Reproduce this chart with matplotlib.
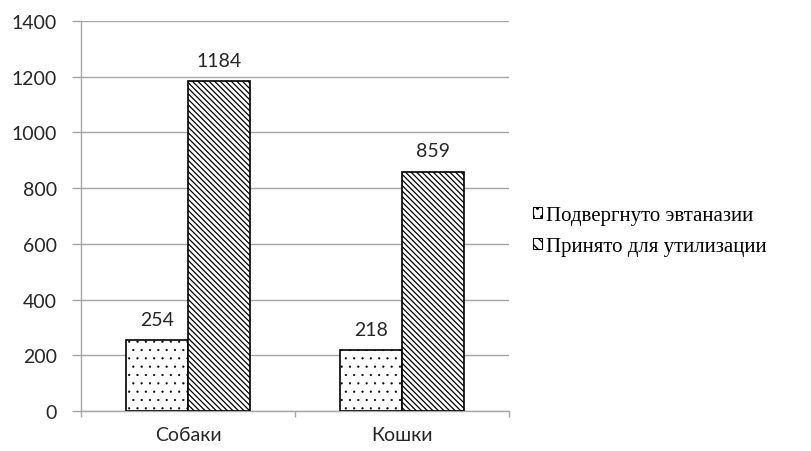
import matplotlib as mpl
import matplotlib.pyplot as plt
import numpy as np
from matplotlib.patches import Patch
from matplotlib.font_manager import FontProperties

plt.rcParams['font.serif'] = ['Liberation Serif', 'DejaVu Serif']

categories = ['Собаки', 'Кошки']
series_names = ['Подвергнуто эвтаназии', 'Принято для утилизации']
euthanized = [254, 218]
utilized = [1184, 859]
yticks = [0, 200, 400, 600, 800, 1000, 1200, 1400]

fig = plt.figure(figsize=(8.11, 4.52), dpi=100)
ax = fig.add_axes([0.0999, 0.0885, 0.5277, 0.8628])

x = np.arange(len(categories))
w = 0.29
grey = '#a6a6a6'
txt = '#262626'
dots = '..'
stripes = '\\\\\\\\\\\\'

# sparse fine dots for the first series, dense diagonal stripes for the second
with mpl.rc_context({'hatch.linewidth': 0.35}):
    b1 = ax.bar(x - w/2, euthanized, w, color='white', edgecolor='black',
                linewidth=1.2, hatch=dots, zorder=3)
with mpl.rc_context({'hatch.linewidth': 0.9}):
    b2 = ax.bar(x + w/2, utilized, w, color='white', edgecolor='black',
                linewidth=1.2, hatch=stripes, zorder=3)

for bars, vals in ((b1, euthanized), (b2, utilized)):
    for rect, v in zip(bars, vals):
        ax.annotate(str(v), (rect.get_x() + rect.get_width()/2, v),
                    xytext=(0, 9), textcoords='offset points',
                    ha='center', va='bottom', fontsize=14, family='Lato',
                    color=txt)

ax.set_xlim(-0.5, 1.5)
ax.set_ylim(0, 1400)
ax.set_yticks(yticks)
ax.set_yticklabels([str(t) for t in yticks], family='Lato', fontsize=14,
                   color=txt)
ax.set_xticks([-0.5, 0.5, 1.5])
ax.set_xticklabels([])
ax.set_xticks(x, minor=True)
ax.set_xticklabels(categories, minor=True, family='Lato', fontsize=14,
                   color=txt)
ax.tick_params(axis='x', which='minor', length=0, pad=11)
ax.tick_params(axis='x', which='major', length=4, color=grey, width=1)
ax.tick_params(axis='y', length=6.5, color=grey, width=1, pad=11)

ax.grid(axis='y', color=grey, linewidth=1, zorder=0)
for side in ('top', 'right'):
    ax.spines[side].set_visible(False)
for side in ('left', 'bottom'):
    ax.spines[side].set_color(grey)
    ax.spines[side].set_linewidth(1)

with mpl.rc_context({'hatch.linewidth': 0.5}):
    handles = [Patch(facecolor='white', edgecolor='black', hatch='..', linewidth=0.8),
               Patch(facecolor='white', edgecolor='black', hatch='\\\\\\', linewidth=0.8)]
legend_font = FontProperties(family='serif', size=15)
fig.legend(handles, series_names, loc='center left', bbox_to_anchor=(0.647, 0.487),
           frameon=False, prop=legend_font,
           handlelength=0.45, handleheight=0.45, handletextpad=0.15,
           labelspacing=0.55, borderaxespad=0)

fig.savefig('out.png', dpi=100)
